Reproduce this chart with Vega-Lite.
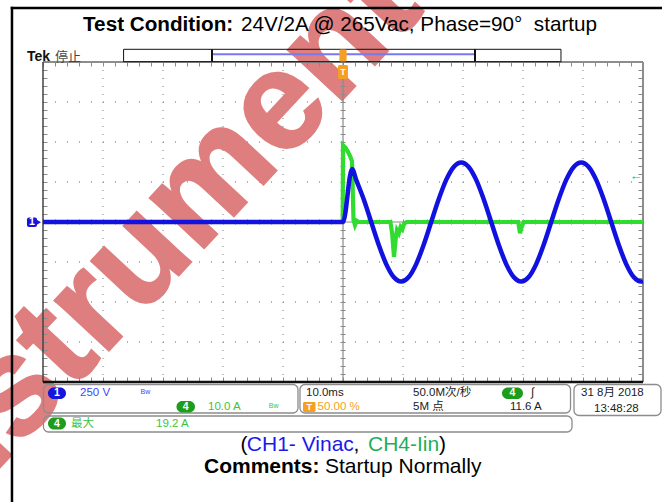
{
"$schema": "https://vega.github.io/schema/vega-lite/v6.json",
"width": 600, "height": 320,
"autosize": {"type": "none"},
"padding": {"left": 43, "top": 62, "right": 19, "bottom": 120},
"background": "white",
"config": {"view": {"stroke": null}, "text": {"font": "Liberation Sans, 'Noto Sans CJK SC'"}},
"resolve": {"scale": {"y": "independent"}},
"layer": [
{"data": {"values": [{"t": 8.67, "d": 6.0, "s": "Instrument"}]},
 "mark": {"type": "text", "angle": -47, "fontSize": 140, "fontWeight": "bold", "color": "#de7e7e", "stroke": "#de7e7e", "strokeWidth": 2, "align": "right", "baseline": "middle"},
 "encoding": {"x": {"field": "t", "type": "quantitative", "scale": {"domain": [-50, 50], "nice": false, "zero": false}, "axis": null},
  "y": {"field": "d", "type": "quantitative", "scale": {"domain": [-4, 4], "nice": false, "zero": false}, "axis": null},
  "text": {"field": "s"}}},
{"data": {"values": [{"t": -55.17, "d": 5.35, "t2": -55.17, "d2": -7.5}, {"t": -55.17, "d": 5.35, "t2": 56, "d2": 5.35}]},
 "mark": {"type": "rule", "color": "black", "strokeWidth": 2.5, "strokeCap": "square"},
 "encoding": {"x": {"field": "t", "type": "quantitative", "scale": {"domain": [-50, 50], "nice": false, "zero": false}, "axis": null},
  "y": {"field": "d", "type": "quantitative", "scale": {"domain": [-4, 4], "nice": false, "zero": false}, "axis": null},
  "x2": {"field": "t2"}, "y2": {"field": "d2"}}},
{"data": {"values": [{"d": -3}, {"d": -2}, {"d": -1}, {"d": 1}, {"d": 2}, {"d": 3}]},
 "mark": {"type": "rule", "color": "#9a9a9a", "strokeWidth": 1.3, "strokeDash": [1, 11]},
 "encoding": {"x": {"datum": -50, "type": "quantitative", "scale": {"domain": [-50, 50], "nice": false, "zero": false}, "axis": null},
  "x2": {"datum": 50},
  "y": {"field": "d", "type": "quantitative", "scale": {"domain": [-4, 4], "nice": false, "zero": false}, "axis": null}}},
{"data": {"values": [{"t": -40}, {"t": -30}, {"t": -20}, {"t": -10}, {"t": 10}, {"t": 20}, {"t": 30}, {"t": 40}]},
 "mark": {"type": "rule", "color": "#9a9a9a", "strokeWidth": 1.3, "strokeDash": [1, 7]},
 "encoding": {"x": {"field": "t", "type": "quantitative", "scale": {"domain": [-50, 50], "nice": false, "zero": false}, "axis": null},
  "y": {"datum": 4, "type": "quantitative", "scale": {"domain": [-4, 4], "nice": false, "zero": false}, "axis": null},
  "y2": {"datum": -4}}},
{"data": {"values": [{"t": 0, "d": 4, "t2": 0, "d2": -4}, {"t": -50, "d": 0, "t2": 50, "d2": 0}]},
 "mark": {"type": "rule", "color": "#8a8a8a", "strokeWidth": 1.2},
 "encoding": {"x": {"field": "t", "type": "quantitative", "scale": {"domain": [-50, 50], "nice": false, "zero": false}, "axis": null},
  "y": {"field": "d", "type": "quantitative", "scale": {"domain": [-4, 4], "nice": false, "zero": false}, "axis": null},
  "x2": {"field": "t2"}, "y2": {"field": "d2"}}},
{"data": {"values": [{"t": 0}, {"t": -49.67}, {"t": 49.67}]},
 "mark": {"type": "rule", "color": "#8a8a8a", "strokeWidth": 5, "strokeDash": [1, 7]},
 "encoding": {"x": {"field": "t", "type": "quantitative", "scale": {"domain": [-50, 50], "nice": false, "zero": false}, "axis": null},
  "y": {"datum": 4, "type": "quantitative", "scale": {"domain": [-4, 4], "nice": false, "zero": false}, "axis": null},
  "y2": {"datum": -4}}},
{"data": {"values": [{"d": 0}, {"d": 3.95}, {"d": -3.95}]},
 "mark": {"type": "rule", "color": "#8a8a8a", "strokeWidth": 5, "strokeDash": [1, 11]},
 "encoding": {"x": {"datum": -50, "type": "quantitative", "scale": {"domain": [-50, 50], "nice": false, "zero": false}, "axis": null},
  "x2": {"datum": 50},
  "y": {"field": "d", "type": "quantitative", "scale": {"domain": [-4, 4], "nice": false, "zero": false}, "axis": null}}},
{"data": {"values": [{"t": 50, "d": 4, "t2": 50, "d2": -4}, {"t": -50, "d": 4, "t2": 50, "d2": 4}]},
 "mark": {"type": "rule", "color": "#8c8c8c", "strokeWidth": 2},
 "encoding": {"x": {"field": "t", "type": "quantitative", "scale": {"domain": [-50, 50], "nice": false, "zero": false}, "axis": null},
  "y": {"field": "d", "type": "quantitative", "scale": {"domain": [-4, 4], "nice": false, "zero": false}, "axis": null},
  "x2": {"field": "t2"}, "y2": {"field": "d2"}}},
{"data": {"values": [{"t": -50, "d": 4, "t2": -50, "d2": -4}]},
 "mark": {"type": "rule", "color": "#444444", "strokeWidth": 1.5},
 "encoding": {"x": {"field": "t", "type": "quantitative", "scale": {"domain": [-50, 50], "nice": false, "zero": false}, "axis": null},
  "y": {"field": "d", "type": "quantitative", "scale": {"domain": [-4, 4], "nice": false, "zero": false}, "axis": null},
  "x2": {"field": "t2"}, "y2": {"field": "d2"}}},
{"data": {"values": [{"t": -50, "d": -4, "t2": 50, "d2": -4}]},
 "mark": {"type": "rule", "color": "#111111", "strokeWidth": 2.5},
 "encoding": {"x": {"field": "t", "type": "quantitative", "scale": {"domain": [-50, 50], "nice": false, "zero": false}, "axis": null},
  "y": {"field": "d", "type": "quantitative", "scale": {"domain": [-4, 4], "nice": false, "zero": false}, "axis": null},
  "x2": {"field": "t2"}, "y2": {"field": "d2"}}},
{"data": {"values": [
  {"t": -50, "A": 0}, {"t": -0.05, "A": 0}, {"t": 0, "A": 19.2}, {"t": 0.4, "A": 18.6}, {"t": 0.8, "A": 17.6}, {"t": 1.2, "A": 16.4}, {"t": 1.5, "A": 15.2}, {"t": 1.75, "A": 0.5}, {"t": 2.0, "A": -0.8}, {"t": 2.3, "A": 0.3}, {"t": 2.6, "A": 0},
  {"t": 7.9, "A": 0}, {"t": 8.2, "A": -3}, {"t": 8.5, "A": -8.7}, {"t": 8.8, "A": -4}, {"t": 9.0, "A": -2}, {"t": 9.3, "A": -2.8}, {"t": 9.6, "A": -1.2}, {"t": 9.9, "A": -1.8}, {"t": 10.2, "A": -0.4}, {"t": 10.6, "A": 0},
  {"t": 29.2, "A": 0}, {"t": 29.5, "A": -2.8}, {"t": 29.8, "A": -1.2}, {"t": 30.1, "A": 0}, {"t": 50, "A": 0}]},
 "mark": {"type": "line", "color": "#2fdc2f", "strokeWidth": 4.2, "interpolate": "linear"},
 "encoding": {"x": {"field": "t", "type": "quantitative", "scale": {"domain": [-50, 50], "nice": false, "zero": false}, "axis": null},
  "y": {"field": "A", "type": "quantitative", "scale": {"domain": [-40, 40], "nice": false, "zero": false}, "axis": null}}},
{"data": {"values": [
  {"t": -50, "V": 0}, {"t": 0, "V": 0}, {"t": 1.5, "V": 332}, {"t": 2.2, "V": 263}, {"t": 3.45, "V": 142}, {"t": 4.7, "V": 0}, {"t": 5.95, "V": -142}, {"t": 7.2, "V": -263}, {"t": 8.45, "V": -344}, {"t": 9.7, "V": -372},
  {"t": 10.95, "V": -344}, {"t": 12.2, "V": -263}, {"t": 13.45, "V": -142}, {"t": 14.7, "V": 0}, {"t": 15.95, "V": 142}, {"t": 17.2, "V": 263}, {"t": 18.45, "V": 344}, {"t": 19.7, "V": 372},
  {"t": 20.95, "V": 344}, {"t": 22.2, "V": 263}, {"t": 23.45, "V": 142}, {"t": 24.7, "V": 0}, {"t": 25.95, "V": -142}, {"t": 27.2, "V": -263}, {"t": 28.45, "V": -344}, {"t": 29.7, "V": -372},
  {"t": 30.95, "V": -344}, {"t": 32.2, "V": -263}, {"t": 33.45, "V": -142}, {"t": 34.7, "V": 0}, {"t": 35.95, "V": 142}, {"t": 37.2, "V": 263}, {"t": 38.45, "V": 344}, {"t": 39.7, "V": 372},
  {"t": 40.95, "V": 344}, {"t": 42.2, "V": 263}, {"t": 43.45, "V": 142}, {"t": 44.7, "V": 0}, {"t": 45.95, "V": -142}, {"t": 47.2, "V": -263}, {"t": 48.45, "V": -344}, {"t": 49.7, "V": -372}, {"t": 50, "V": -371}]},
 "mark": {"type": "line", "color": "#1212e0", "strokeWidth": 4.5, "interpolate": "monotone"},
 "encoding": {"x": {"field": "t", "type": "quantitative", "scale": {"domain": [-50, 50], "nice": false, "zero": false}, "axis": null},
  "y": {"field": "V", "type": "quantitative", "scale": {"domain": [-1000, 1000], "nice": false, "zero": false}, "axis": null}}},
{"data": {"values": [{"t": -52.67, "t2": -51.0, "d": 0.1125, "d2": -0.125}]},
 "mark": {"type": "rect", "color": "#1515e0", "cornerRadius": 2},
 "encoding": {"x": {"field": "t", "type": "quantitative", "scale": {"domain": [-50, 50], "nice": false, "zero": false}, "axis": null},
  "y": {"field": "d", "type": "quantitative", "scale": {"domain": [-4, 4], "nice": false, "zero": false}, "axis": null},
  "x2": {"field": "t2"}, "y2": {"field": "d2"}}},
{"data": {"values": [{"t": -50.8, "d": -0.006}]},
 "mark": {"type": "point", "shape": "triangle-right", "filled": true, "color": "#1515e0", "size": 45, "opacity": 1},
 "encoding": {"x": {"field": "t", "type": "quantitative", "scale": {"domain": [-50, 50], "nice": false, "zero": false}, "axis": null},
  "y": {"field": "d", "type": "quantitative", "scale": {"domain": [-4, 4], "nice": false, "zero": false}, "axis": null}}},
{"data": {"values": [{"t": -36.57, "t2": 36.33, "d": 4.3175, "d2": 4.0075}]},
 "mark": {"type": "rect", "filled": false, "color": "#111111", "strokeWidth": 1},
 "encoding": {"x": {"field": "t", "type": "quantitative", "scale": {"domain": [-50, 50], "nice": false, "zero": false}, "axis": null},
  "y": {"field": "d", "type": "quantitative", "scale": {"domain": [-4, 4], "nice": false, "zero": false}, "axis": null},
  "x2": {"field": "t2"}, "y2": {"field": "d2"}}},
{"data": {"values": [{"t": -21.83, "d": 4.1925, "t2": 22.0, "d2": 4.1925}]},
 "mark": {"type": "rule", "color": "#7878f0", "strokeWidth": 2},
 "encoding": {"x": {"field": "t", "type": "quantitative", "scale": {"domain": [-50, 50], "nice": false, "zero": false}, "axis": null},
  "y": {"field": "d", "type": "quantitative", "scale": {"domain": [-4, 4], "nice": false, "zero": false}, "axis": null},
  "x2": {"field": "t2"}, "y2": {"field": "d2"}}},
{"data": {"values": [{"t": -21.83, "d": 4.3175, "t2": -21.83, "d2": 4.0075}, {"t": 22.0, "d": 4.3175, "t2": 22.0, "d2": 4.0075}]},
 "mark": {"type": "rule", "color": "#111111", "strokeWidth": 2},
 "encoding": {"x": {"field": "t", "type": "quantitative", "scale": {"domain": [-50, 50], "nice": false, "zero": false}, "axis": null},
  "y": {"field": "d", "type": "quantitative", "scale": {"domain": [-4, 4], "nice": false, "zero": false}, "axis": null},
  "x2": {"field": "t2"}, "y2": {"field": "d2"}}},
{"data": {"values": [{"t": -0.6, "t2": 0.6, "d": 4.31, "d2": 4.01}, {"t": -0.83, "t2": 0.83, "d": 3.925, "d2": 3.575}, {"t": -6.67, "t2": -4.58, "d": -4.5, "d2": -4.75}]},
 "mark": {"type": "rect", "color": "#f5a020", "cornerRadius": 1.5},
 "encoding": {"x": {"field": "t", "type": "quantitative", "scale": {"domain": [-50, 50], "nice": false, "zero": false}, "axis": null},
  "y": {"field": "d", "type": "quantitative", "scale": {"domain": [-4, 4], "nice": false, "zero": false}, "axis": null},
  "x2": {"field": "t2"}, "y2": {"field": "d2"}}},
{"data": {"values": [{"t": -49.92, "t2": -7.5, "d": -4.0625, "d2": -4.775}, {"t": -7.17, "t2": 37.92, "d": -4.0625, "d2": -4.775}, {"t": 38.5, "t2": 53.0, "d": -4.0625, "d2": -4.8375}, {"t": -49.92, "t2": 38.17, "d": -4.85, "d2": -5.25}]},
 "mark": {"type": "rect", "filled": false, "color": "#8c8c8c", "strokeWidth": 1.3, "cornerRadius": 5},
 "encoding": {"x": {"field": "t", "type": "quantitative", "scale": {"domain": [-50, 50], "nice": false, "zero": false}, "axis": null},
  "y": {"field": "d", "type": "quantitative", "scale": {"domain": [-4, 4], "nice": false, "zero": false}, "axis": null},
  "x2": {"field": "t2"}, "y2": {"field": "d2"}}},
{"data": {"values": [{"t": -49.17, "t2": -46.17, "d": -4.1375, "d2": -4.425}]},
 "mark": {"type": "rect", "color": "#1515e0", "cornerRadius": 6},
 "encoding": {"x": {"field": "t", "type": "quantitative", "scale": {"domain": [-50, 50], "nice": false, "zero": false}, "axis": null},
  "y": {"field": "d", "type": "quantitative", "scale": {"domain": [-4, 4], "nice": false, "zero": false}, "axis": null},
  "x2": {"field": "t2"}, "y2": {"field": "d2"}}},
{"data": {"values": [{"t": -27.75, "t2": -24.67, "d": -4.475, "d2": -4.7625}, {"t": 26.5, "t2": 30.0, "d": -4.1375, "d2": -4.425}, {"t": -49.17, "t2": -46.17, "d": -4.8875, "d2": -5.1875}]},
 "mark": {"type": "rect", "color": "#1c9e1c", "cornerRadius": 6},
 "encoding": {"x": {"field": "t", "type": "quantitative", "scale": {"domain": [-50, 50], "nice": false, "zero": false}, "axis": null},
  "y": {"field": "d", "type": "quantitative", "scale": {"domain": [-4, 4], "nice": false, "zero": false}, "axis": null},
  "x2": {"field": "t2"}, "y2": {"field": "d2"}}},
{"data": {"values": [{"t": -47.67, "d": -4.28, "s": "1"}, {"t": -26.21, "d": -4.62, "s": "4"}, {"t": 28.25, "d": -4.28, "s": "4"}, {"t": -47.67, "d": -5.0375, "s": "4"}, {"t": -51.83, "d": -0.005, "s": "1"}]},
 "mark": {"type": "text", "color": "white", "fontSize": 10.5, "fontWeight": "bold", "align": "center", "baseline": "middle"},
 "encoding": {"x": {"field": "t", "type": "quantitative", "scale": {"domain": [-50, 50], "nice": false, "zero": false}, "axis": null},
  "y": {"field": "d", "type": "quantitative", "scale": {"domain": [-4, 4], "nice": false, "zero": false}, "axis": null},
  "text": {"field": "s"}}},
{"data": {"values": [{"t": -5.625, "d": -4.625, "s": "T"}, {"t": 0, "d": 3.75, "s": "T"}]},
 "mark": {"type": "text", "color": "white", "fontSize": 9, "fontWeight": "bold", "align": "center", "baseline": "middle"},
 "encoding": {"x": {"field": "t", "type": "quantitative", "scale": {"domain": [-50, 50], "nice": false, "zero": false}, "axis": null},
  "y": {"field": "d", "type": "quantitative", "scale": {"domain": [-4, 4], "nice": false, "zero": false}, "axis": null},
  "text": {"field": "s"}}},
{"data": {"values": [{"t": 48.83, "d": 1.15, "s": "←"}]},
 "mark": {"type": "text", "color": "#22c822", "fontSize": 13, "fontWeight": "bold", "align": "center", "baseline": "middle"},
 "encoding": {"x": {"field": "t", "type": "quantitative", "scale": {"domain": [-50, 50], "nice": false, "zero": false}, "axis": null},
  "y": {"field": "d", "type": "quantitative", "scale": {"domain": [-4, 4], "nice": false, "zero": false}, "axis": null},
  "text": {"field": "s"}}},
{"data": {"values": [{"t": -43.83, "d": -4.275, "s": "250 V"}]},
 "mark": {"type": "text", "color": "#4545ff", "fontSize": 11.5, "align": "left", "baseline": "middle"},
 "encoding": {"x": {"field": "t", "type": "quantitative", "scale": {"domain": [-50, 50], "nice": false, "zero": false}, "axis": null},
  "y": {"field": "d", "type": "quantitative", "scale": {"domain": [-4, 4], "nice": false, "zero": false}, "axis": null},
  "text": {"field": "s"}}},
{"data": {"values": [{"t": -33.75, "d": -4.25, "s": "Bw"}]},
 "mark": {"type": "text", "color": "#4545ff", "fontSize": 7, "align": "left", "baseline": "middle"},
 "encoding": {"x": {"field": "t", "type": "quantitative", "scale": {"domain": [-50, 50], "nice": false, "zero": false}, "axis": null},
  "y": {"field": "d", "type": "quantitative", "scale": {"domain": [-4, 4], "nice": false, "zero": false}, "axis": null},
  "text": {"field": "s"}}},
{"data": {"values": [{"t": -22.5, "d": -4.625, "s": "10.0 A"}, {"t": -45.33, "d": -5.05, "s": "最大"}, {"t": -31.17, "d": -5.05, "s": "19.2 A"}]},
 "mark": {"type": "text", "color": "#3cc43c", "fontSize": 11.5, "align": "left", "baseline": "middle"},
 "encoding": {"x": {"field": "t", "type": "quantitative", "scale": {"domain": [-50, 50], "nice": false, "zero": false}, "axis": null},
  "y": {"field": "d", "type": "quantitative", "scale": {"domain": [-4, 4], "nice": false, "zero": false}, "axis": null},
  "text": {"field": "s"}}},
{"data": {"values": [{"t": -12.37, "d": -4.6, "s": "Bw"}]},
 "mark": {"type": "text", "color": "#3cc43c", "fontSize": 7, "align": "left", "baseline": "middle"},
 "encoding": {"x": {"field": "t", "type": "quantitative", "scale": {"domain": [-50, 50], "nice": false, "zero": false}, "axis": null},
  "y": {"field": "d", "type": "quantitative", "scale": {"domain": [-4, 4], "nice": false, "zero": false}, "axis": null},
  "text": {"field": "s"}}},
{"data": {"values": [{"t": -4.25, "d": -4.625, "s": "50.00 %"}]},
 "mark": {"type": "text", "color": "#f5a020", "fontSize": 11.5, "align": "left", "baseline": "middle"},
 "encoding": {"x": {"field": "t", "type": "quantitative", "scale": {"domain": [-50, 50], "nice": false, "zero": false}, "axis": null},
  "y": {"field": "d", "type": "quantitative", "scale": {"domain": [-4, 4], "nice": false, "zero": false}, "axis": null},
  "text": {"field": "s"}}},
{"data": {"values": [{"t": -6.17, "d": -4.275, "s": "10.0ms"}, {"t": 11.67, "d": -4.275, "s": "50.0M次/秒"}, {"t": 11.67, "d": -4.625, "s": "5M 点"}, {"t": 31.33, "d": -4.27, "s": "∫"}, {"t": 27.83, "d": -4.625, "s": "11.6 A"}, {"t": 39.67, "d": -4.275, "s": "31 8月 2018"}, {"t": 41.83, "d": -4.675, "s": "13:48:28"}]},
 "mark": {"type": "text", "color": "#222222", "fontSize": 11.5, "align": "left", "baseline": "middle"},
 "encoding": {"x": {"field": "t", "type": "quantitative", "scale": {"domain": [-50, 50], "nice": false, "zero": false}, "axis": null},
  "y": {"field": "d", "type": "quantitative", "scale": {"domain": [-4, 4], "nice": false, "zero": false}, "axis": null},
  "text": {"field": "s"}}},
{"data": {"values": [{"t": -52.67, "d": 4.0375, "s": "Tek"}]},
 "mark": {"type": "text", "color": "#111111", "fontSize": 14, "fontWeight": "bold", "align": "left", "baseline": "alphabetic"},
 "encoding": {"x": {"field": "t", "type": "quantitative", "scale": {"domain": [-50, 50], "nice": false, "zero": false}, "axis": null},
  "y": {"field": "d", "type": "quantitative", "scale": {"domain": [-4, 4], "nice": false, "zero": false}, "axis": null},
  "text": {"field": "s"}}},
{"data": {"values": [{"t": -48.0, "d": 4.025, "s": "停止"}]},
 "mark": {"type": "text", "color": "#444444", "fontSize": 13, "align": "left", "baseline": "alphabetic"},
 "encoding": {"x": {"field": "t", "type": "quantitative", "scale": {"domain": [-50, 50], "nice": false, "zero": false}, "axis": null},
  "y": {"field": "d", "type": "quantitative", "scale": {"domain": [-4, 4], "nice": false, "zero": false}, "axis": null},
  "text": {"field": "s"}}},
{"data": {"values": [{"t": -43.33, "d": 4.775, "s": "Test Condition:"}]},
 "mark": {"type": "text", "color": "#000000", "fontSize": 20.7, "fontWeight": "bold", "align": "left", "baseline": "alphabetic"},
 "encoding": {"x": {"field": "t", "type": "quantitative", "scale": {"domain": [-50, 50], "nice": false, "zero": false}, "axis": null},
  "y": {"field": "d", "type": "quantitative", "scale": {"domain": [-4, 4], "nice": false, "zero": false}, "axis": null},
  "text": {"field": "s"}}},
{"data": {"values": [{"t": -17.0, "d": 4.775, "s": "24V/2A @ 265Vac, Phase=90°\u00a0\u00a0startup"}]},
 "mark": {"type": "text", "color": "#000000", "fontSize": 20.7, "align": "left", "baseline": "alphabetic"},
 "encoding": {"x": {"field": "t", "type": "quantitative", "scale": {"domain": [-50, 50], "nice": false, "zero": false}, "axis": null},
  "y": {"field": "d", "type": "quantitative", "scale": {"domain": [-4, 4], "nice": false, "zero": false}, "axis": null},
  "text": {"field": "s"}}},
{"data": {"values": [{"t": -23.17, "d": -6.275, "s": "Comments:"}]},
 "mark": {"type": "text", "color": "#000000", "fontSize": 21, "fontWeight": "bold", "align": "left", "baseline": "alphabetic"},
 "encoding": {"x": {"field": "t", "type": "quantitative", "scale": {"domain": [-50, 50], "nice": false, "zero": false}, "axis": null},
  "y": {"field": "d", "type": "quantitative", "scale": {"domain": [-4, 4], "nice": false, "zero": false}, "axis": null},
  "text": {"field": "s"}}},
{"data": {"values": [{"t": -3.0, "d": -6.275, "s": "Startup Normally"}, {"t": -17.08, "d": -5.725, "s": "("}, {"t": 1.75, "d": -5.725, "s": ","}, {"t": 16.0, "d": -5.725, "s": ")"}]},
 "mark": {"type": "text", "color": "#000000", "fontSize": 21, "align": "left", "baseline": "alphabetic"},
 "encoding": {"x": {"field": "t", "type": "quantitative", "scale": {"domain": [-50, 50], "nice": false, "zero": false}, "axis": null},
  "y": {"field": "d", "type": "quantitative", "scale": {"domain": [-4, 4], "nice": false, "zero": false}, "axis": null},
  "text": {"field": "s"}}},
{"data": {"values": [{"t": -16.03, "d": -5.725, "s": "CH1- Vinac"}]},
 "mark": {"type": "text", "color": "#1a1aee", "fontSize": 21, "align": "left", "baseline": "alphabetic"},
 "encoding": {"x": {"field": "t", "type": "quantitative", "scale": {"domain": [-50, 50], "nice": false, "zero": false}, "axis": null},
  "y": {"field": "d", "type": "quantitative", "scale": {"domain": [-4, 4], "nice": false, "zero": false}, "axis": null},
  "text": {"field": "s"}}},
{"data": {"values": [{"t": 4.17, "d": -5.725, "s": "CH4-Iin"}]},
 "mark": {"type": "text", "color": "#1fae5a", "fontSize": 21, "align": "left", "baseline": "alphabetic"},
 "encoding": {"x": {"field": "t", "type": "quantitative", "scale": {"domain": [-50, 50], "nice": false, "zero": false}, "axis": null},
  "y": {"field": "d", "type": "quantitative", "scale": {"domain": [-4, 4], "nice": false, "zero": false}, "axis": null},
  "text": {"field": "s"}}}
]
}
